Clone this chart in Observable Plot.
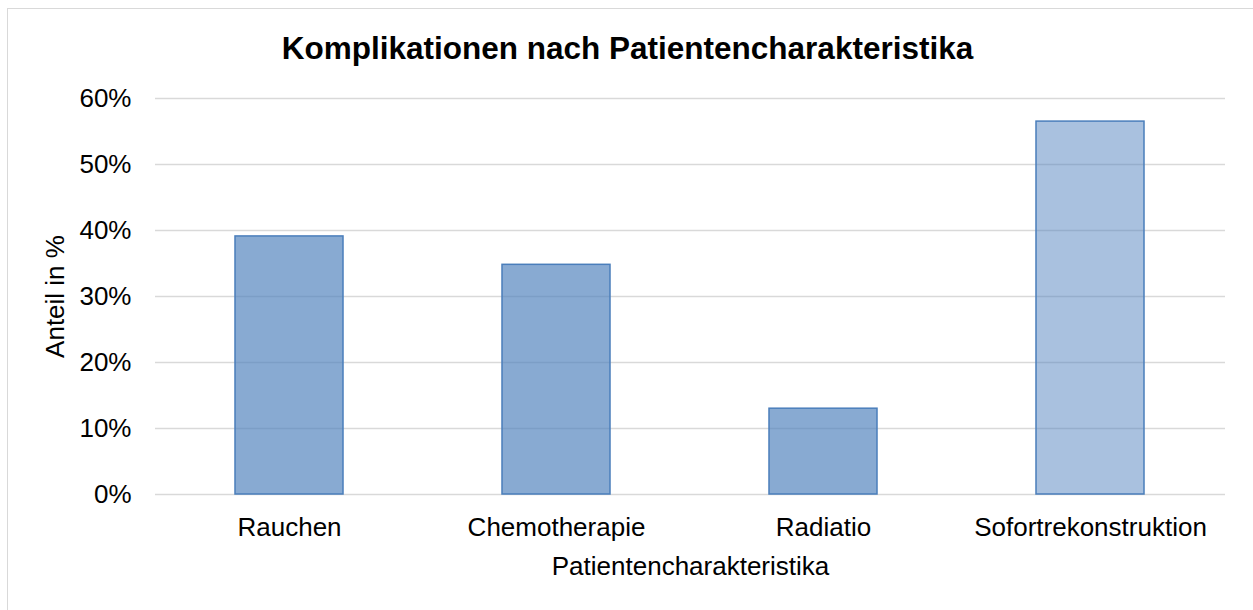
<!DOCTYPE html>
<html>
<head>
<meta charset="utf-8">
<script src="https://cdn.jsdelivr.net/npm/d3@7"></script>
<script src="https://cdn.jsdelivr.net/npm/@observablehq/plot@0.6"></script>
<style>
  html, body { margin: 0; padding: 0; background: #fff; }
  #wrap { position: relative; width: 1253px; height: 610px; overflow: hidden; font-family: "Liberation Sans", Arial, sans-serif; }
  #frame { position: absolute; left: 7px; top: 8px; width: 1300px; height: 700px; border-top: 1.5px solid #d9d9d9; border-left: 1.5px solid #d9d9d9; box-sizing: border-box; pointer-events: none; }
  #title { height: 47px; padding-top: 33px; text-align: center; font-size: 31.5px; line-height: 31px; font-weight: bold; color: #000; padding-left: 2px; }
  #chart svg { display: block; }
</style>
</head>
<body>
<div id="wrap">
  <div id="frame"></div>
  <div id="title">Komplikationen nach Patientencharakteristika</div>
  <div id="chart"></div>
</div>
<script>
const categories = ["Rauchen", "Chemotherapie", "Radiatio", "Sofortrekonstruktion"];
const values = [39.1, 34.8, 13.0, 56.5];
const yTicks = [0, 10, 20, 30, 40, 50, 60];
const xLabel = "Patientencharakteristika";
const yLabel = "Anteil in %";

const data = categories.map((c, i) => ({cat: c, v: values[i]}));
const highlighted = "Sofortrekonstruktion";

const chart = Plot.plot({
  width: 1253,
  height: 530,
  marginLeft: 155,
  marginRight: 28,
  marginTop: 18,
  marginBottom: 116,
  style: {fontFamily: '"Liberation Sans", Arial, sans-serif', fontSize: "26px", color: "#000", background: "transparent"},
  x: {domain: categories, paddingInner: 0.595, paddingOuter: 0.2975},
  y: {domain: [0, 60]},
  marks: [
    Plot.ruleY(yTicks, {stroke: "#d9d9d9", strokeWidth: 1.5}),
    Plot.barY(data, {filter: d => d.cat !== highlighted, x: "cat", y: "v", fill: "#4f81bd", fillOpacity: 0.68, stroke: "#4a7ebb", strokeWidth: 1.5}),
    Plot.barY(data, {filter: d => d.cat === highlighted, x: "cat", y: "v", fill: "#4f81bd", fillOpacity: 0.49, stroke: "#4a7ebb", strokeWidth: 1.5}),
    Plot.axisY({ticks: yTicks, tickFormat: d => d + "%", tickSize: 0, tickPadding: 24, fontSize: 26, label: yLabel, labelAnchor: "center", labelOffset: 110, labelArrow: "none"}),
    Plot.axisX({tickSize: 0, tickPadding: 23, fontSize: 26, label: xLabel, labelAnchor: "center", labelOffset: 80, labelArrow: "none"})
  ]
});
document.getElementById("chart").appendChild(chart);
</script>
</body>
</html>
